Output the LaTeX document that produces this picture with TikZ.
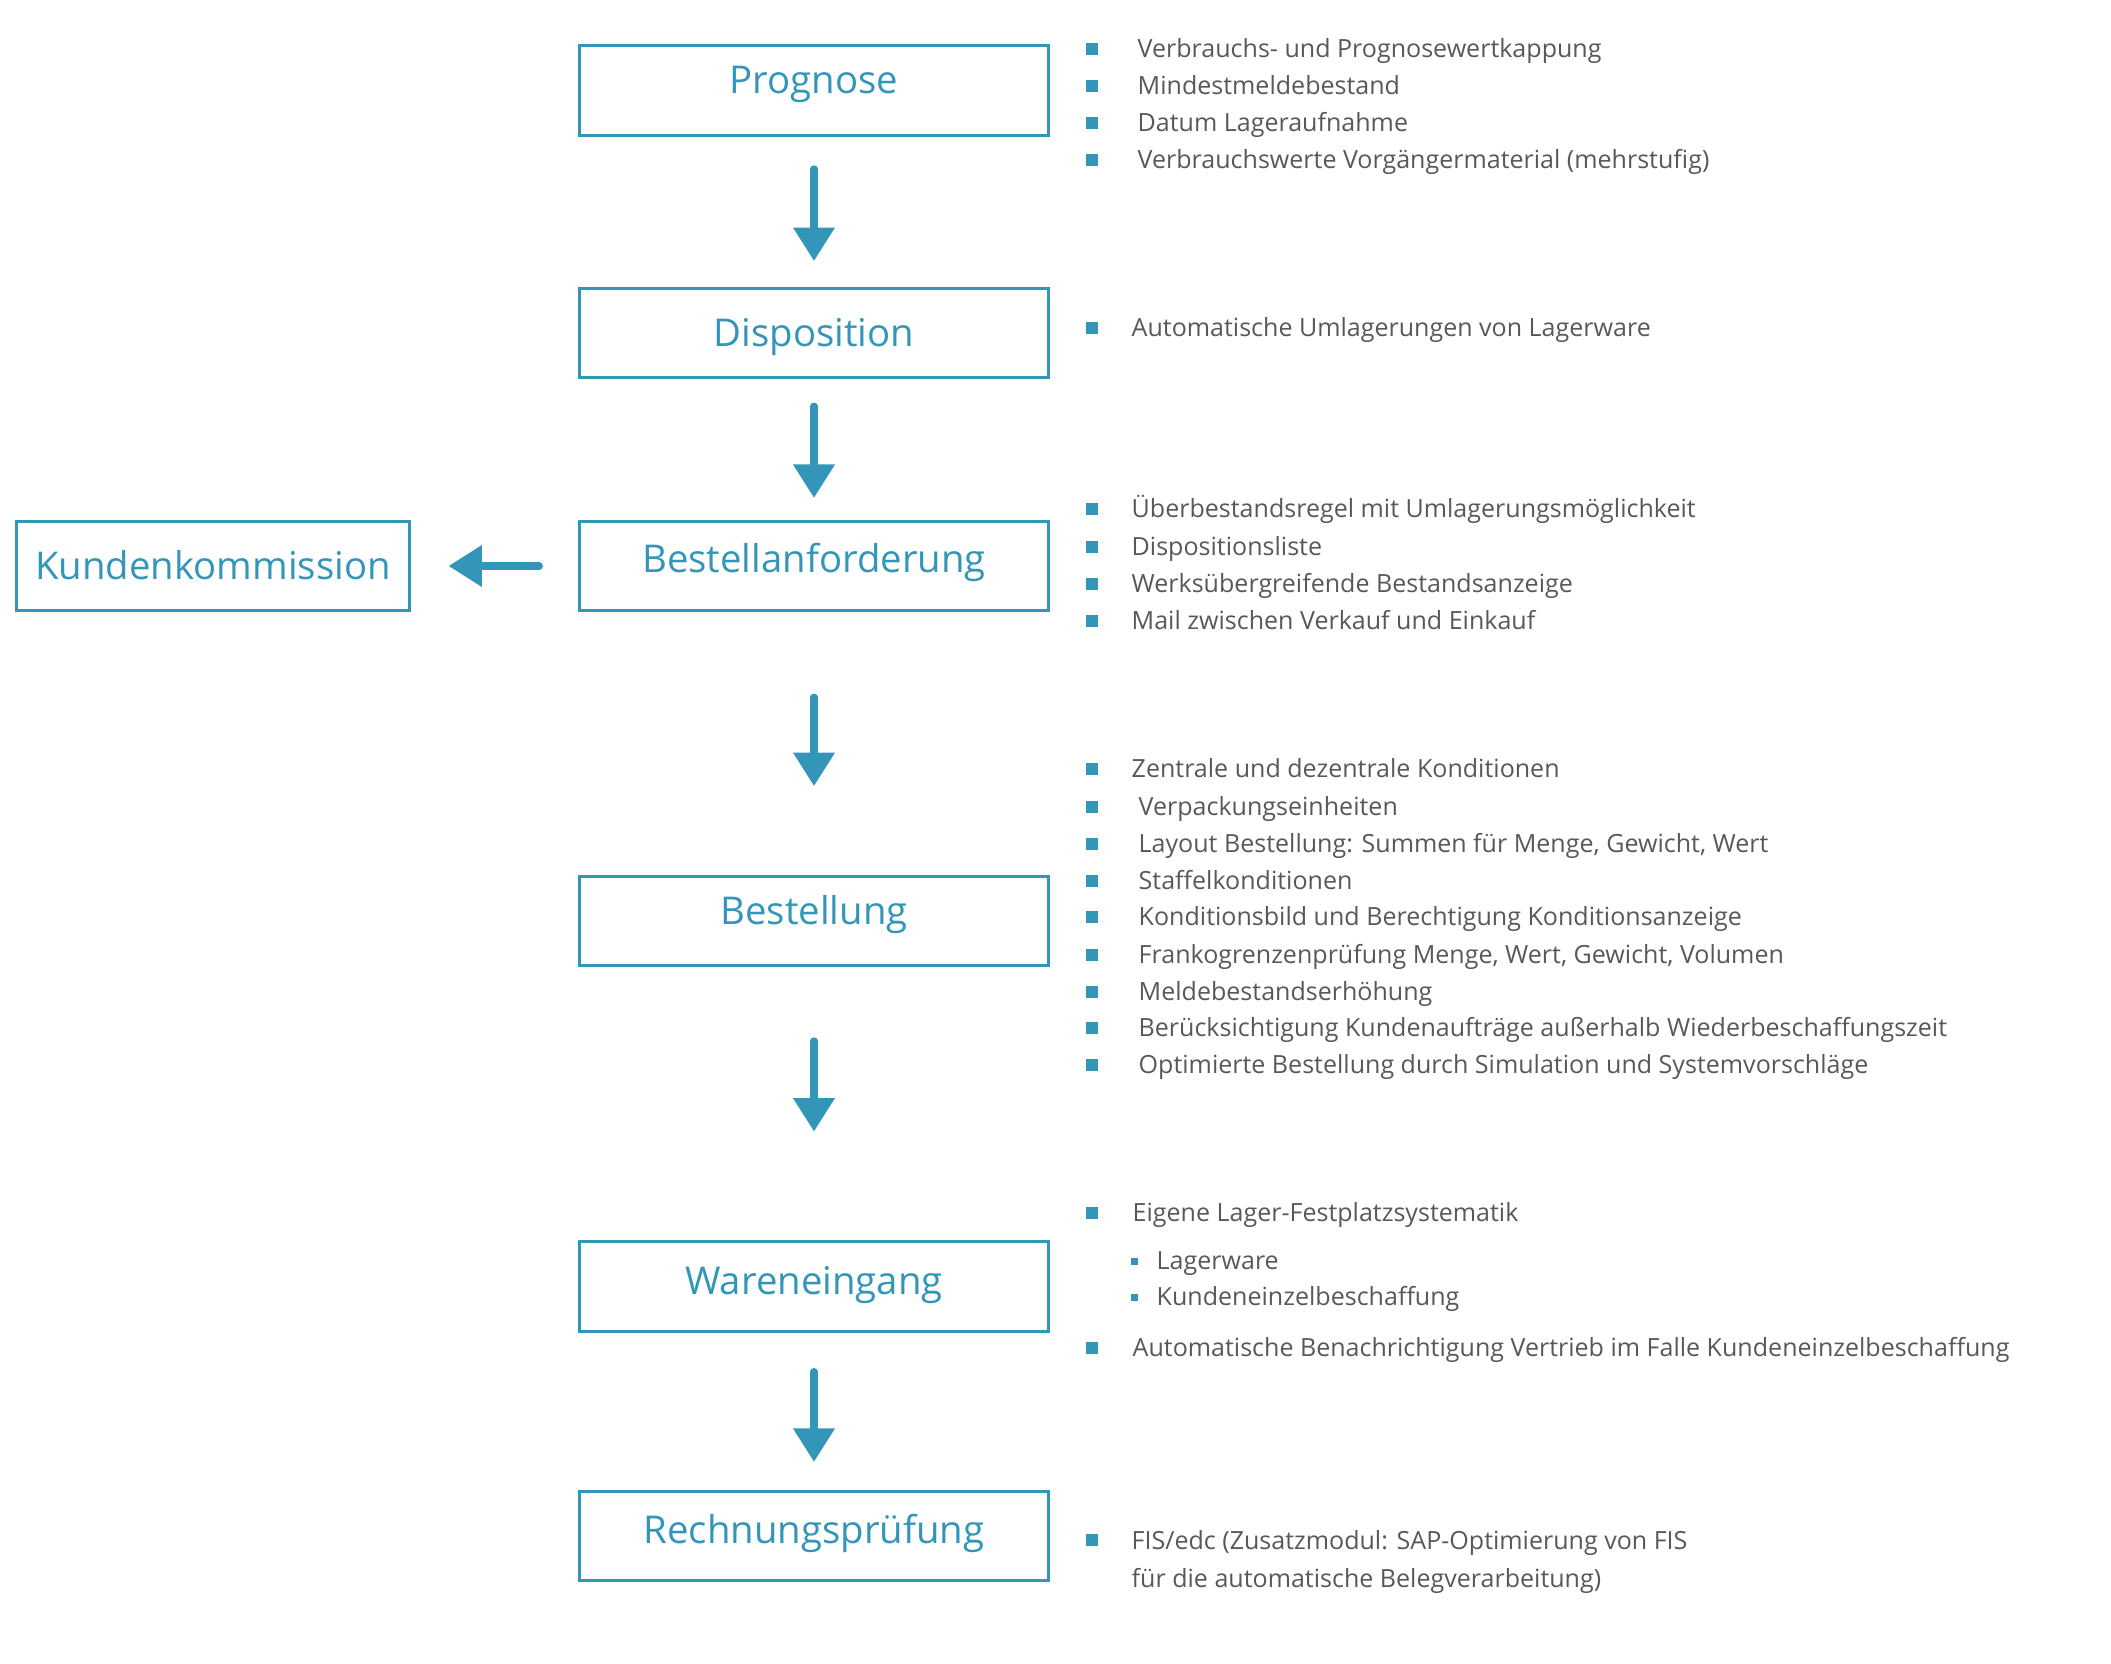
\documentclass[tikz,border=0pt]{standalone}
\usepackage{fontspec}
\setmainfont{Open Sans}
\usetikzlibrary{arrows.meta}

\definecolor{procblue}{HTML}{3396B9}
\definecolor{itemgray}{HTML}{585858}

\tikzset{
  stage/.style={draw=procblue, line width=0.85pt, minimum width=4.68cm, minimum height=0.89cm,
    text=procblue, font=\fontsize{10.9}{12}\selectfont, text height=7.8pt, text depth=#1},
  stage/.default=4pt,
  flow/.style={procblue, line width=2pt, line cap=round, -{Triangle[width=11.4pt,length=9.5pt]}},
  item/.style={anchor=west, inner sep=0pt, text=itemgray, font=\fontsize{7.12}{8.4}\selectfont,
    text height=5.1pt, text depth=0pt},
}

\begin{document}
\begin{tikzpicture}[x=0.01cm, y=-0.01cm]

\useasboundingbox (0,0) rectangle (2111,1664);

% Process steps
\node[stage=6.3pt] (prog) at (814,90.5) {Prognose};
\node[stage=0pt] (dispo) at (814,333) {Disposition};
\node[stage=4pt] (banf) at (814,566) {Bestellanforderung};
\node[stage=6pt] (best) at (814,921) {Bestellung};
\node[stage=3.1pt] (we) at (814,1286.5) {Wareneingang};
\node[stage=3.4pt] (rp) at (814,1536) {Rechnungsprüfung};
\node[stage=0pt, minimum width=3.92cm] (kunde) at (213,566) {Kundenkommission};

% Arrows
\draw[flow, shorten <=9.2pt, shorten >=7.4pt] (prog) -- (dispo);
\draw[flow, shorten <=7.7pt, shorten >=6.3pt] (dispo) -- (banf);
\draw[flow, shorten <=24.2pt, shorten >=25.3pt] (banf) -- (best);
\draw[flow, shorten <=21pt, shorten >=31pt] (best) -- (we);
\draw[flow, shorten <=11.1pt, shorten >=8pt] (we) -- (rp);
\draw[flow, shorten <=11.1pt, shorten >=10.8pt] (banf) -- (kunde);

% Prognose
\foreach \y/\t [count=\i] in {49/Verbrauchs- und Prognosewertkappung, 86/Mindestmeldebestand,
    123/Datum Lageraufnahme, 160/Verbrauchswerte Vorgängermaterial (mehrstufig)} {
    \fill[procblue] (1086,\y-6) rectangle ++(12,12);
    \node[item] (pg\i) at (1137,\y) {\t};
}

% Disposition
\fill[procblue] (1086,328-6) rectangle ++(12,12);
\node[item] (ds1) at (1131,328) {Automatische Umlagerungen von Lagerware};

% Bestellanforderung
\foreach \y/\t [count=\i] in {509/Überbestandsregel mit Umlagerungsmöglichkeit, 547/Dispositionsliste,
    584/Werksübergreifende Bestandsanzeige, 621/Mail zwischen Verkauf und Einkauf} {
    \fill[procblue] (1086,\y-6) rectangle ++(12,12);
    \node[item] (ba\i) at (1131,\y) {\t};
}

% Bestellung
\fill[procblue] (1086,769-6) rectangle ++(12,12);
\node[item] (bs0) at (1131,769) {Zentrale und dezentrale Konditionen};
\foreach \y/\t [count=\i] in {807/Verpackungseinheiten,
    844/{Layout Bestellung: Summen für Menge, Gewicht, Wert},
    880.5/Staffelkonditionen,
    917/Konditionsbild und Berechtigung Konditionsanzeige,
    955/{Frankogrenzenprüfung Menge, Wert, Gewicht, Volumen},
    992/Meldebestandserhöhung,
    1028/Berücksichtigung Kundenaufträge außerhalb Wiederbeschaffungszeit,
    1065/Optimierte Bestellung durch Simulation und Systemvorschläge} {
    \fill[procblue] (1086,\y-6) rectangle ++(12,12);
    \node[item] (bs\i) at (1138,\y) {\t};
}

% Wareneingang
\fill[procblue] (1086,1213-6) rectangle ++(12,12);
\node[item] (we1) at (1132,1213) {Eigene Lager-Festplatzsystematik};
\foreach \y/\t [count=\i] in {1261/Lagerware, 1297/Kundeneinzelbeschaffung} {
    \fill[procblue] (1131,\y-3.5) rectangle ++(7,7);
    \node[item] (wesub\i) at (1156,\y) {\t};
}
\fill[procblue] (1086,1348-6) rectangle ++(12,12);
\node[item] (we2) at (1132,1348) {Automatische Benachrichtigung Vertrieb im Falle Kundeneinzelbeschaffung};

% Rechnungspruefung
\fill[procblue] (1086,1540-6) rectangle ++(12,12);
\node[item] (rp1) at (1131,1541) {FIS/edc (Zusatzmodul: SAP-Optimierung von FIS};
\node[item] (rp2) at (1131,1579) {für die automatische Belegverarbeitung)};

\end{tikzpicture}
\end{document}
